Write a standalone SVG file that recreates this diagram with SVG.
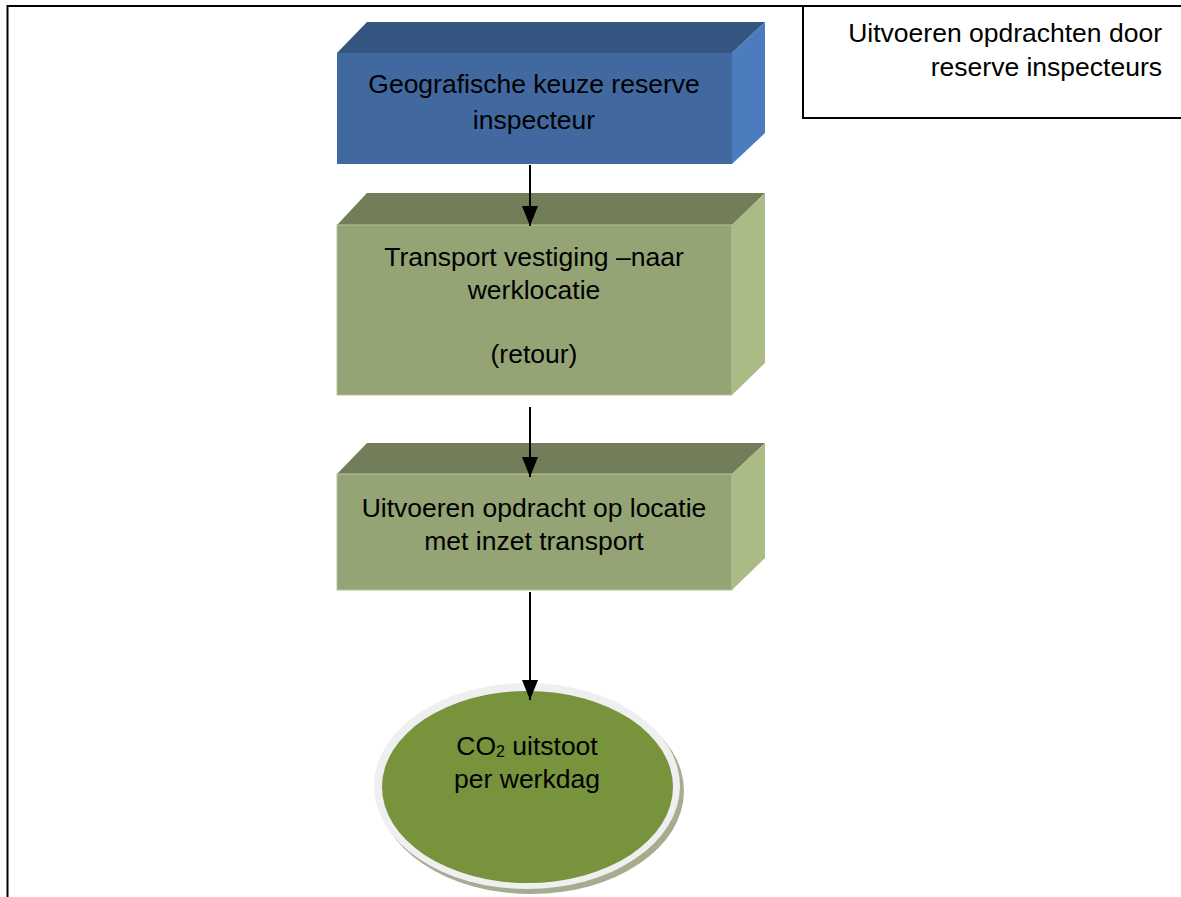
<svg xmlns="http://www.w3.org/2000/svg" width="1181" height="897" viewBox="0 0 1181 897">
<style>
text{font-family:"Liberation Sans",Arial,sans-serif;font-size:26.5px;fill:#000;text-anchor:middle}
.frame{stroke:#000;stroke-width:2;fill:none}
.conn{stroke:#000;stroke-width:2;fill:none}
.bTop{fill:#34557F}.bFront{fill:#4169A0}.bSide{fill:#4A7CBE}
.gTop{fill:#727E5A}.gFront{fill:#94A475;stroke:#B7C2A0;stroke-width:1}.gSide{fill:#AABB86}
</style>
<defs>
<marker id="ah" viewBox="0 0 20 16" refX="20" refY="8" markerWidth="20" markerHeight="16" markerUnits="userSpaceOnUse" orient="auto">
<path d="M0,0 L20,8 L0,16 Z" fill="#000"/>
</marker>
</defs>
<rect width="1181" height="897" fill="#fff"/>
<g id="frame">
<path class="frame" d="M7.5,897 V6 H1181"/>
<path class="frame" d="M803,6 V118 H1181"/>
</g>
<g id="title">
<text x="1162" y="42" style="text-anchor:end">Uitvoeren opdrachten door</text>
<text x="1162" y="76" style="text-anchor:end">reserve inspecteurs</text>
</g>
<g id="node1">
<polygon class="bTop" points="337,53 367,22 765,22 732,53"/>
<polygon class="bSide" points="732,53 765,22 765,133 732,164"/>
<rect class="bFront" x="337" y="53" width="395" height="111"/>
<text x="534" y="93">Geografische keuze reserve</text>
<text x="534" y="129">inspecteur</text>
</g>
<g id="node2">
<polygon class="gTop" points="337,225 367,193 765,193 732,225"/>
<polygon class="gSide" points="732,225 765,193 765,363 732,395"/>
<rect class="gFront" x="337" y="225" width="395" height="170"/>
<text x="534" y="266">Transport vestiging –naar</text>
<text x="534" y="299">werklocatie</text>
<text x="534" y="363">(retour)</text>
</g>
<g id="node3">
<polygon class="gTop" points="337,474 367,443 765,443 732,474"/>
<polygon class="gSide" points="732,474 765,443 765,558 732,590"/>
<rect class="gFront" x="337" y="474" width="395" height="116"/>
<text x="534" y="517">Uitvoeren opdracht op locatie</text>
<text x="534" y="550">met inzet transport</text>
</g>
<g id="node4">
<ellipse cx="531" cy="791" rx="153" ry="103" fill="#A5AC90"/>
<ellipse cx="527" cy="786" rx="153" ry="103" fill="#EFEFEF"/>
<ellipse cx="527.5" cy="787" rx="145.5" ry="96" fill="#77933C"/>
<text x="527" y="755">CO<tspan font-size="16" dy="2">2</tspan><tspan dy="-2"> uitstoot</tspan></text>
<text x="527" y="788">per werkdag</text>
</g>
<g id="connectors">
<line class="conn" x1="530" y1="165" x2="530" y2="226" marker-end="url(#ah)"/>
<line class="conn" x1="530" y1="407" x2="530" y2="477" marker-end="url(#ah)"/>
<line class="conn" x1="530" y1="592" x2="530" y2="700" marker-end="url(#ah)"/>
</g>
</svg>
